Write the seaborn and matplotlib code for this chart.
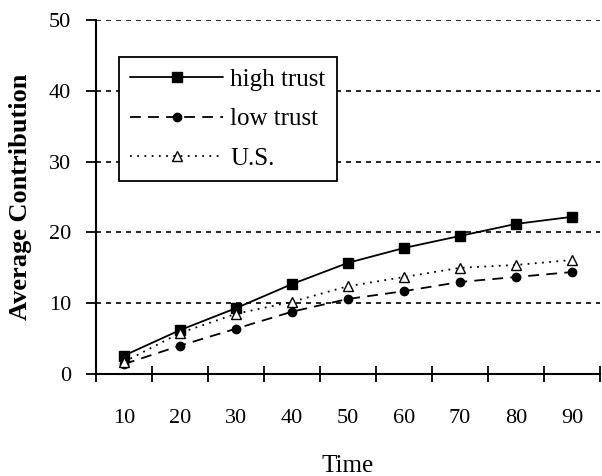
import numpy as np
import pandas as pd
import matplotlib
matplotlib.use("Agg")
import matplotlib.pyplot as plt
import seaborn as sns

# values
times = ['10', '20', '30', '40', '50', '60', '70', '80', '90']
high_trust = [2.6, 6.2, 9.3, 12.7, 15.7, 17.8, 19.5, 21.2, 22.2]
low_trust = [1.4, 4.0, 6.4, 8.8, 10.6, 11.7, 13.0, 13.7, 14.4]
us = [1.7, 5.8, 8.5, 10.2, 12.4, 13.7, 15.0, 15.4, 16.1]
y_ticks = [0, 10, 20, 30, 40, 50]

df = pd.DataFrame({
    'Time': times * 3,
    'Contribution': high_trust + low_trust + us,
    'Series': ['high trust'] * 9 + ['low trust'] * 9 + ['U.S.'] * 9,
})

sns.set_style("white")
plt.rcParams['font.family'] = ['Liberation Serif', 'DejaVu Serif']
plt.rcParams['text.color'] = 'black'
plt.rcParams['axes.labelcolor'] = 'black'
plt.rcParams['xtick.color'] = 'black'
plt.rcParams['ytick.color'] = 'black'

fig = plt.figure(figsize=(6.02, 4.76), dpi=100)
ax = fig.add_axes([96 / 602, 1 - 374 / 476, 504 / 602, 354 / 476])

styles = {
    'high trust': dict(marker='s', linestyle='-', markersize=7, markerfacecolor='black'),
    'low trust': dict(marker='o', linestyle=(0, (6, 4)), markersize=6, markerfacecolor='black'),
    'U.S.': dict(marker='^', linestyle=(0, (1, 3)), markersize=7, markerfacecolor='white'),
}
for name, kw in styles.items():
    sub = df[df['Series'] == name]
    sns.lineplot(data=sub, x='Time', y='Contribution', ax=ax, color='black',
                 linewidth=1.3, markeredgecolor='black', markeredgewidth=1.0,
                 label=name, zorder=3, **kw)

ax.set_xlim(-0.5, 8.5)
ax.set_ylim(0, 50)
ax.set_xticks(range(len(times)))
ax.set_xticklabels(times)
ax.set_xticks(np.arange(-0.5, len(times), 1), minor=True)
ax.set_yticks(y_ticks)

ax.yaxis.grid(True, color='black', linestyle=(0, (3, 3)), linewidth=1.2)
ax.xaxis.grid(False)
ax.set_axisbelow(True)

for s in ['top', 'right']:
    ax.spines[s].set_visible(False)
for s in ['left', 'bottom']:
    ax.spines[s].set_linewidth(1.5)
    ax.spines[s].set_color('black')

ax.tick_params(axis='x', which='major', length=0, pad=25, labelsize=16)
ax.tick_params(axis='x', which='minor', bottom=True, direction='inout', length=11,
               width=1.3, color='black')
ax.tick_params(axis='y', which='major', direction='out', length=7, width=1.3, color='black',
               pad=11, labelsize=16, left=True)

ax.set_xlabel('Time', fontsize=18, labelpad=20)
ax.set_ylabel('Average Contribution', fontsize=19, fontweight='bold', labelpad=12)

leg = ax.legend(loc='upper left', bbox_to_anchor=(23 / 504, 317 / 354), borderaxespad=0,
                fontsize=18, frameon=True, fancybox=False, edgecolor='black',
                framealpha=1, handlelength=3.7, handletextpad=0.3, labelspacing=0.68,
                borderpad=0.45)
leg.get_frame().set_linewidth(1.3)

fig.savefig("out.png", dpi=100)
